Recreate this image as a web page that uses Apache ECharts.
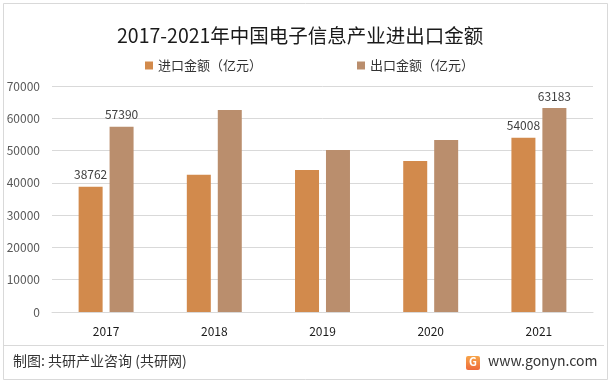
<!DOCTYPE html>
<html><head><meta charset="utf-8">
<script src="https://cdn.jsdelivr.net/npm/echarts@6/dist/echarts.min.js"></script>
<style>html,body{margin:0;padding:0;background:#fff}#c{width:612px;height:385px}</style>
</head><body><div id="c"></div>
<script>
const years = ['2017','2018','2019','2020','2021'];
const importVals = [38762, 42500, 44000, 46800, 54008];
const exportVals = [57390, 62600, 50200, 53300, 63183];
const labeledYears = ['2017','2021'];
const seriesNames = ['进口金额（亿元）','出口金额（亿元）'];
const titleText = '2017-2021年中国电子信息产业进出口金额';
const sourceText = '制图: 共研产业咨询 (共研网)';
const siteText = 'www.gonyn.com';

const FONT = '"Noto Sans CJK SC", "Microsoft YaHei", sans-serif';
function mk(vals){
  return vals.map((v,i)=>({value:v, label:{show: labeledYears.includes(years[i])}}));
}
const chart = echarts.init(document.getElementById('c'), null, {renderer:'canvas'});
chart.setOption({
  backgroundColor:'#fff',
  animation:false,
  title:{text:titleText, left:112, top:21, textStyle:{fontFamily:FONT, fontSize:19.5, fontWeight:'normal', color:'#1a1a1a'}},
  legend:{left:140, top:54, itemWidth:8, itemHeight:8, itemGap:95, icon:'rect',
    textStyle:{fontFamily:FONT, fontSize:13, color:'#333'}, data:seriesNames},
  grid:{left:52, right:19, top:86, bottom:73},
  xAxis:{type:'category', data:years, axisTick:{show:false},
    axisLine:{lineStyle:{color:'#d9d9d9'}},
    axisLabel:{fontFamily:FONT, fontSize:12, color:'#1a1a1a', margin:13}},
  yAxis:{type:'value', min:0, max:70000, interval:10000,
    axisLine:{show:false}, axisTick:{show:false},
    splitLine:{lineStyle:{color:'#d9d9d9'}},
    axisLabel:{fontFamily:FONT, fontSize:12, color:'#595959', margin:12, formatter:v=>String(v)}},
  series:[
    {name:seriesNames[0], type:'bar', data:mk(importVals), barWidth:24, barGap:'29%',
      itemStyle:{color:'#D28A4C'},
      label:{position:'top', distance:6, fontFamily:FONT, fontSize:12, color:'#404040'}},
    {name:seriesNames[1], type:'bar', data:mk(exportVals), barWidth:24,
      itemStyle:{color:'#BA8E6D'},
      label:{position:'top', distance:6, fontFamily:FONT, fontSize:12, color:'#404040'}}
  ],
  graphic:[
    {type:'rect', shape:{x:3.5,y:3.5,width:604,height:376}, style:{fill:null, stroke:'#d9d9d9', lineWidth:1}, silent:true},
    {type:'line', shape:{x1:4,y1:345.5,x2:604,y2:345.5}, style:{stroke:'#d9d9d9', lineWidth:1}},
    {type:'text', left:13, top:354, style:{text:sourceText, font:'14px '+FONT, fill:'#333'}},
    {type:'rect', shape:{x:466,y:356,width:14,height:14, r:2}, style:{fill:new echarts.graphic.LinearGradient(0,0,0,1,[{offset:0,color:'#F7A54A'},{offset:1,color:'#EE6A3A'}])}},
    {type:'text', left:469, top:356, style:{text:'G', font:'bold 11px '+FONT, fill:'#fff'}},
    {type:'text', left:488, top:354, style:{text:siteText, font:'14px '+FONT, fill:'#333'}}
  ]
});
</script></body></html>
